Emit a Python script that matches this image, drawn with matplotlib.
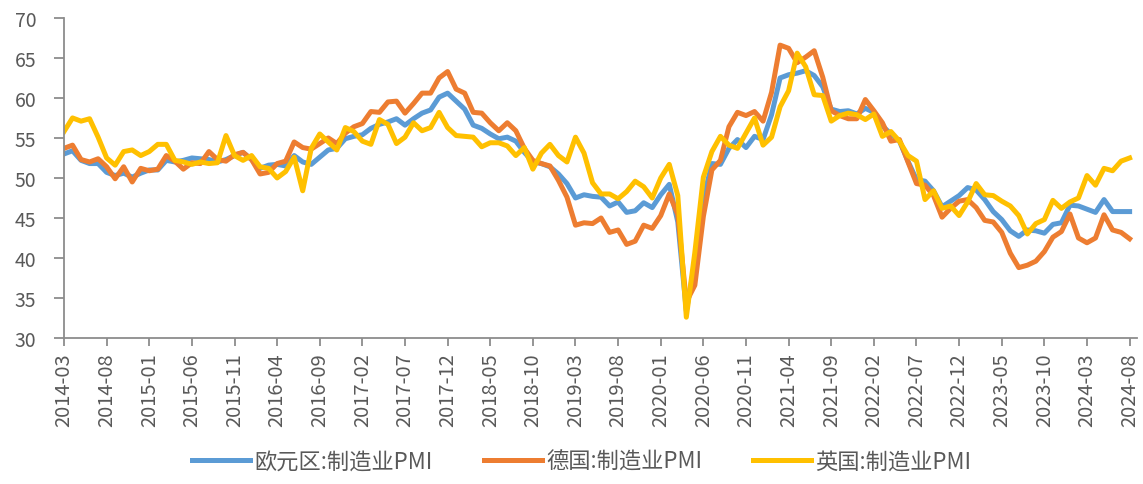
import matplotlib
matplotlib.use("Agg")
import matplotlib.pyplot as plt
import pandas as pd

plt.rcParams['font.family'] = ['Noto Sans CJK SC', 'DejaVu Sans']

# monthly, 2014-03 .. 2024-08
months = pd.date_range('2014-03-01', '2024-08-01', freq='MS')

ez_pmi = [53.0, 53.4, 52.2, 51.8, 51.8, 50.7, 50.3, 50.6, 50.1, 50.6,
          51.0, 51.0, 52.2, 52.0, 52.2, 52.5, 52.4, 52.3, 52.0, 52.3, 52.8, 53.2,
          52.3, 51.2, 51.6, 51.7, 51.5, 52.8, 52.0, 51.7, 52.6, 53.5, 53.7, 54.9,
          55.2, 55.4, 56.2, 56.7, 57.0, 57.4, 56.6, 57.4, 58.1, 58.5, 60.1, 60.6,
          59.6, 58.6, 56.6, 56.2, 55.5, 54.9, 55.1, 54.6, 53.2, 52.0, 51.8, 51.4,
          50.5, 49.3, 47.5, 47.9, 47.7, 47.6, 46.5, 47.0, 45.7, 45.9, 46.9, 46.3,
          47.9, 49.2, 44.5, 33.4, 39.4, 47.4, 51.8, 51.7, 53.7, 54.8, 53.8, 55.2,
          54.8, 57.9, 62.5, 62.9, 63.1, 63.4, 62.8, 61.4, 58.6, 58.3, 58.4, 58.0,
          58.7, 58.2, 56.5, 55.5, 54.6, 52.1, 49.8, 49.6, 48.4, 46.4, 47.1, 47.8,
          48.8, 48.5, 47.3, 45.8, 44.8, 43.4, 42.7, 43.5, 43.4, 43.1, 44.2, 44.4,
          46.6, 46.5, 46.1, 45.7, 47.3, 45.8, 45.8, 45.8]

de_pmi = [53.7, 54.1, 52.3, 52.0, 52.4, 51.4, 49.9, 51.4, 49.5, 51.2,
          50.9, 51.1, 52.8, 52.1, 51.1, 51.9, 51.8, 53.3, 52.3, 52.1, 52.9, 53.2,
          52.3, 50.5, 50.7, 51.8, 52.1, 54.5, 53.8, 53.6, 54.3, 55.0, 54.3, 55.6,
          56.4, 56.8, 58.3, 58.2, 59.5, 59.6, 58.1, 59.3, 60.6, 60.6, 62.5, 63.3,
          61.1, 60.6, 58.2, 58.1, 56.9, 55.9, 56.9, 55.9, 53.7, 52.2, 51.8, 51.5,
          49.7, 47.6, 44.1, 44.4, 44.3, 45.0, 43.2, 43.5, 41.7, 42.1, 44.1, 43.7,
          45.3, 48.0, 45.4, 34.5, 36.6, 45.2, 51.0, 52.2, 56.4, 58.2, 57.8, 58.3,
          57.1, 60.7, 66.6, 66.2, 64.4, 65.1, 65.9, 62.6, 58.4, 57.8, 57.4, 57.4,
          59.8, 58.4, 56.9, 54.6, 54.8, 52.0, 49.3, 49.1, 47.8, 45.1, 46.2, 47.1,
          47.3, 46.3, 44.7, 44.5, 43.2, 40.6, 38.8, 39.1, 39.6, 40.8, 42.6, 43.3,
          45.5, 42.5, 41.9, 42.5, 45.4, 43.5, 43.2, 42.4]

uk_pmi = [55.8, 57.5, 57.1, 57.4, 55.1, 52.5, 51.6, 53.3, 53.5, 52.8,
          53.3, 54.2, 54.2, 52.2, 52.0, 51.7, 52.0, 51.8, 51.9, 55.3, 52.8, 52.2,
          52.8, 51.4, 51.2, 50.0, 50.8, 52.6, 48.4, 53.7, 55.5, 54.5, 53.5, 56.3,
          55.8, 54.6, 54.2, 57.3, 56.7, 54.3, 55.1, 56.9, 55.9, 56.3, 58.2, 56.3,
          55.3, 55.2, 55.1, 53.9, 54.4, 54.4, 54.0, 52.8, 53.8, 51.1, 53.1, 54.2,
          52.8, 52.0, 55.1, 53.1, 49.4, 48.0, 48.0, 47.4, 48.3, 49.6, 48.9, 47.5,
          50.0, 51.7, 47.8, 32.6, 40.7, 50.1, 53.3, 55.2, 54.1, 53.7, 55.6, 57.5,
          54.1, 55.1, 58.9, 60.9, 65.6, 63.9, 60.4, 60.3, 57.1, 57.8, 58.1, 57.9,
          57.3, 58.0, 55.2, 55.8, 54.6, 52.8, 52.1, 47.3, 48.4, 46.2, 46.5, 45.3,
          47.0, 49.3, 47.9, 47.8, 47.1, 46.5, 45.3, 43.0, 44.3, 44.8, 47.2, 46.2,
          47.0, 47.5, 50.3, 49.1, 51.2, 50.9, 52.1, 52.5]

series_names = ['欧元区:制造业PMI', '德国:制造业PMI', '英国:制造业PMI']
colors = ['#5B9BD5', '#ED7D31', '#FFC000']

df = pd.DataFrame({series_names[0]: ez_pmi,
                   series_names[1]: de_pmi,
                   series_names[2]: uk_pmi})
labels = months.strftime('%Y-%m')
x = range(len(df))

fig = plt.figure(figsize=(11.43, 4.85), dpi=100)
ax = fig.add_axes([0.056, 0.301, 0.939, 0.660])

for name, c in zip(series_names, colors):
    ax.plot(x, df[name], color=c, lw=3.6, label=name, solid_joinstyle='round')

gray = '#595959'
spine_c = '#8c8c8c'
ax.set_xlim(0, 125.9)
ax.set_ylim(30, 70)
ax.set_yticks(range(30, 71, 5))
tick_pos = list(range(0, len(labels), 5))
ax.set_xticks(tick_pos)
ax.set_xticklabels([labels[i] for i in tick_pos], rotation=90)

for s in ['top', 'right']:
    ax.spines[s].set_visible(False)
for s in ['left', 'bottom']:
    ax.spines[s].set_color(spine_c)
    ax.spines[s].set_linewidth(1.3)
ax.tick_params(axis='y', colors=spine_c, labelcolor=gray, labelsize=14,
               length=7, width=1.3, pad=13)
ax.tick_params(axis='x', colors=spine_c, labelcolor=gray, labelsize=14.5,
               length=6, width=1.3, pad=4)

fig.legend(loc='lower center', bbox_to_anchor=(0.509, -0.018), ncol=3,
           frameon=False, fontsize=16, handlelength=2.6, columnspacing=2.3,
           handletextpad=0.2, labelcolor=gray)

fig.savefig('out.png', dpi=100)
